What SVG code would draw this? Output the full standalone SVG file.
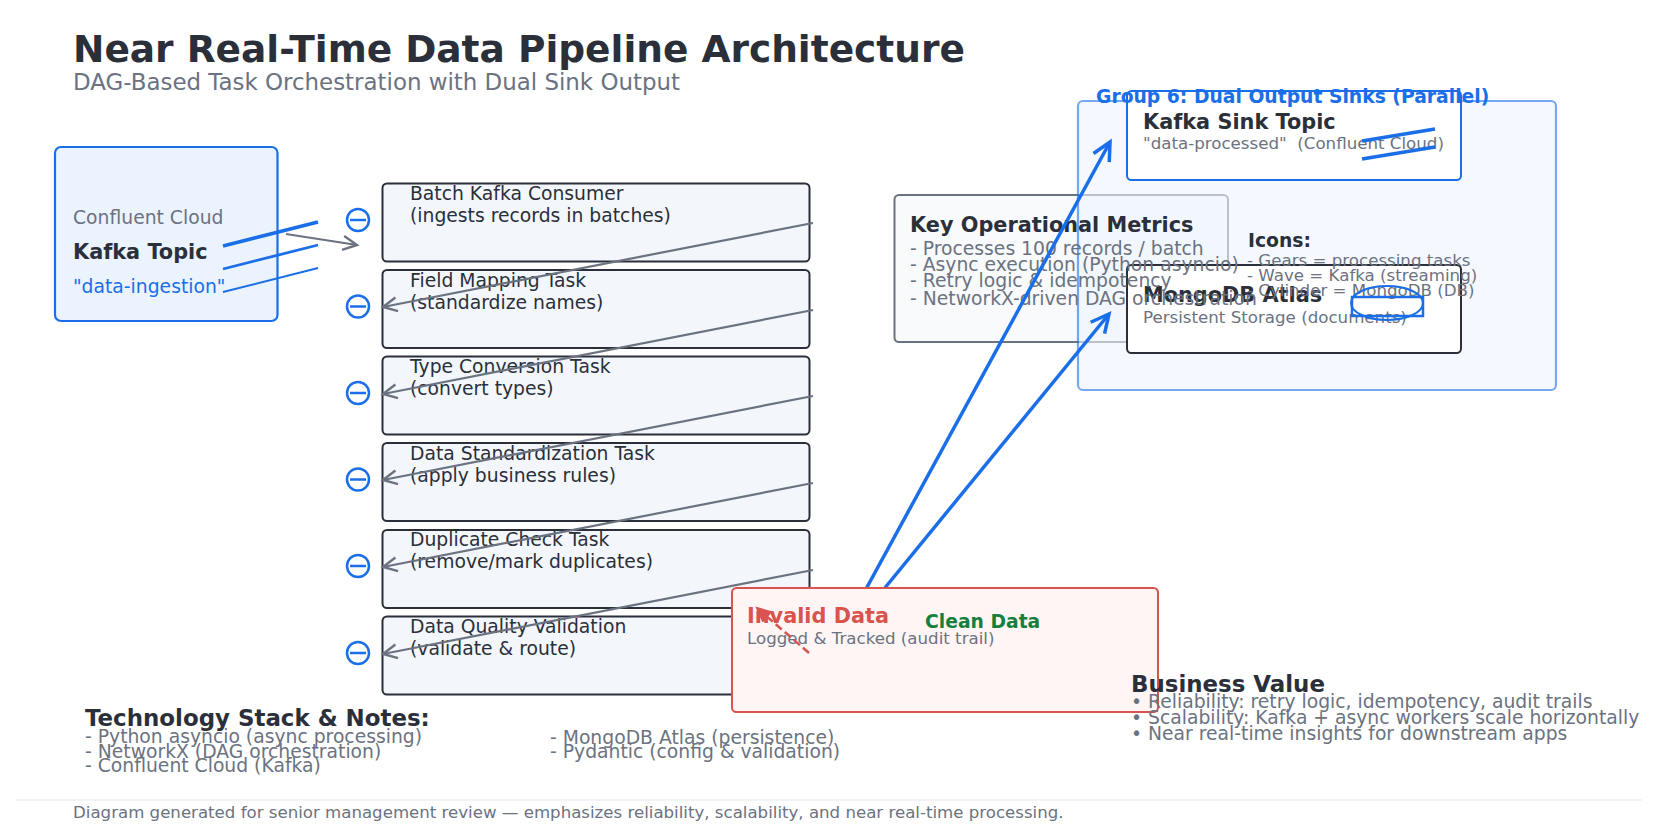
<svg xmlns="http://www.w3.org/2000/svg" width="1657" height="838" viewBox="0 0 1657 838">
<style>
text{font-family:"DejaVu Sans",sans-serif;white-space:pre}
.b{font-weight:700}
.dk{fill:#2a2f3a}
.gr{fill:#6b7280}
.bl{fill:#1a6fe8}
.task{fill:#f3f7fc;stroke:#2a2f3a;stroke-width:2}
.tt{font-size:18.75px;fill:#2a2f3a}
.s16{font-size:16.67px}
.s18{font-size:18.75px}
.s21{font-size:20.83px}
.s23{font-size:22.92px}
.glass{fill:none;stroke:#1a6fe8;stroke-width:2.5}
.gl{stroke:#6b7280;stroke-width:2.2;fill:none;marker-end:url(#ag)}
.bla{stroke:#1a6fe8;stroke-width:3.5;fill:none;marker-end:url(#ab)}
.wave{stroke:#1a6fe8;fill:none}
</style>
<defs>
<marker id="ag" markerUnits="userSpaceOnUse" markerWidth="20" markerHeight="20" refX="15" refY="8" orient="auto"><path d="M1,1 L15,8 L1,15" fill="none" stroke="#6b7280" stroke-width="2.4"/></marker>
<marker id="ab" markerUnits="userSpaceOnUse" markerWidth="26" markerHeight="26" refX="20" refY="11" orient="auto"><path d="M2,2 L20,11 L2,20" fill="none" stroke="#1a6fe8" stroke-width="3.5"/></marker>
<marker id="ar" markerUnits="userSpaceOnUse" markerWidth="20" markerHeight="20" refX="14" refY="7" orient="auto"><path d="M1,1 L14,7 L1,13 Z" fill="#d9534f" stroke="#d9534f" stroke-width="2"/></marker>
</defs>
<rect width="1657" height="838" fill="#fff"/>
<g id="header">
<text x="73" y="62" class="b dk" font-size="37.5">Near Real-Time Data Pipeline Architecture</text>
<text x="73" y="90" class="gr s23">DAG-Based Task Orchestration with Dual Sink Output</text>
</g>
<g id="source">
<rect x="55" y="147" width="222.500" height="174" rx="6" fill="#ebf3fe" stroke="#1a6fe8" stroke-width="2.2"/>
<text x="73" y="224" class="gr s18">Confluent Cloud</text>
<text x="73" y="259" class="b dk s21">Kafka Topic</text>
<text x="73" y="293" class="bl s18">"data-ingestion"</text>
</g>
<g id="task1"><rect class="task" x="382.500" y="183.500" width="427" height="78" rx="4.500"/><text class="tt" x="410" y="200">Batch Kafka Consumer</text><text class="tt" x="410" y="222">(ingests records in batches)</text><circle class="glass" cx="358" cy="220" r="11"/><line x1="350" y1="220" x2="366" y2="220" class="glass"/></g>
<g id="task2"><rect class="task" x="382.500" y="270" width="427" height="78" rx="4.500"/><text class="tt" x="410" y="286.500">Field Mapping Task</text><text class="tt" x="410" y="308.500">(standardize names)</text><circle class="glass" cx="358" cy="306.500" r="11"/><line x1="350" y1="306.500" x2="366" y2="306.500" class="glass"/></g>
<g id="task3"><rect class="task" x="382.500" y="356.500" width="427" height="78" rx="4.500"/><text class="tt" x="410" y="373">Type Conversion Task</text><text class="tt" x="410" y="395">(convert types)</text><circle class="glass" cx="358" cy="393" r="11"/><line x1="350" y1="393" x2="366" y2="393" class="glass"/></g>
<g id="task4"><rect class="task" x="382.500" y="443" width="427" height="78" rx="4.500"/><text class="tt" x="410" y="459.500">Data Standardization Task</text><text class="tt" x="410" y="481.500">(apply business rules)</text><circle class="glass" cx="358" cy="479.500" r="11"/><line x1="350" y1="479.500" x2="366" y2="479.500" class="glass"/></g>
<g id="task5"><rect class="task" x="382.500" y="530" width="427" height="78" rx="4.500"/><text class="tt" x="410" y="546">Duplicate Check Task</text><text class="tt" x="410" y="568">(remove/mark duplicates)</text><circle class="glass" cx="358" cy="566" r="11"/><line x1="350" y1="566" x2="366" y2="566" class="glass"/></g>
<g id="task6"><rect class="task" x="382.500" y="616.500" width="427" height="78" rx="4.500"/><text class="tt" x="410" y="633">Data Quality Validation</text><text class="tt" x="410" y="655">(validate &amp; route)</text><circle class="glass" cx="358" cy="653" r="11"/><line x1="350" y1="653" x2="366" y2="653" class="glass"/></g>
<g id="metrics-box"><rect x="894.500" y="195" width="333.500" height="147" rx="4.500" fill="#f8fafc" stroke="#6b7280" stroke-width="2"/></g>
<g id="sinks-group"><rect x="1078" y="101" width="478" height="289" rx="5" fill="#eff6ff" stroke="#1a6fe8" stroke-width="2.2" opacity=".6"/></g>
<g id="kafka-sink"><rect x="1127" y="91" width="334" height="89" rx="4.500" fill="#fff" stroke="#1a6fe8" stroke-width="2"/>
<text x="1143" y="129" class="b dk s21">Kafka Sink Topic</text>
<text x="1143" y="149" class="gr s16">"data-processed"  (Confluent Cloud)</text></g>
<g id="mongodb"><rect x="1127" y="265" width="334" height="88" rx="4.500" fill="#fff" stroke="#2a2f3a" stroke-width="2"/>
<text x="1143" y="302" class="b dk s21">MongoDB Atlas</text>
<text x="1143" y="323" class="gr s16">Persistent Storage (documents)</text></g>
<g id="metrics"><text x="910" y="232" class="b dk s21">Key Operational Metrics</text>
<text x="910" y="255" class="gr s18">- Processes 100 records / batch</text>
<text x="910" y="271" class="gr s18">- Async execution (Python asyncio)</text>
<text x="910" y="287" class="gr s18">- Retry logic &amp; idempotency</text>
<text x="910" y="305" class="gr s18">- NetworkX-driven DAG orchestration</text></g>
<g id="legend"><text x="1248" y="247" class="b dk s18">Icons:</text>
<text x="1247" y="266" class="gr s16">- Gears = processing tasks</text>
<text x="1247" y="281" class="gr s16">- Wave = Kafka (streaming)</text>
<text x="1247" y="296" class="gr s16">- Cylinder = MongoDB (DB)</text></g>
<g id="group-title"><text x="1096" y="103" class="b bl s18">Group 6: Dual Output Sinks (Parallel)</text></g>
<g id="connectors">
<line class="wave" x1="223" y1="246" x2="318" y2="222" stroke-width="3.5"/>
<line class="wave" x1="223" y1="269" x2="318" y2="245" stroke-width="2.8"/>
<line class="wave" x1="223" y1="292" x2="318" y2="268" stroke-width="2"/>
<line class="gl" x1="286" y1="234" x2="357" y2="245"/>
<line class="gl" x1="813" y1="223" x2="383" y2="307"/>
<line class="gl" x1="813" y1="310" x2="383" y2="394"/>
<line class="gl" x1="813" y1="396" x2="383" y2="480"/>
<line class="gl" x1="813" y1="483" x2="383" y2="567"/>
<line class="gl" x1="813" y1="570" x2="383" y2="654"/>
<line class="bla" x1="860" y1="600" x2="1110" y2="142"/>
<line class="bla" x1="875" y1="600" x2="1109" y2="314"/>
<line class="wave" x1="1362" y1="141" x2="1435" y2="129" stroke-width="3.5"/>
<line class="wave" x1="1362" y1="159" x2="1435" y2="147" stroke-width="3.5"/>
<ellipse cx="1387" cy="303" rx="36" ry="17" fill="none" stroke="#1a6fe8" stroke-width="2"/>
<rect class="glass" x="1352" y="297" width="71" height="19"/>
</g>
<g id="invalid"><rect x="732" y="588" width="426" height="124" rx="4.500" fill="#fff5f5" stroke="#d9534f" stroke-width="2"/>
<text x="747" y="623" class="b s21" fill="#d9534f">Invalid Data</text>
<text x="747" y="644" class="gr s16">Logged &amp; Tracked (audit trail)</text>
<line x1="809" y1="653" x2="757" y2="608" stroke="#d9534f" stroke-width="2.5" stroke-dasharray="8 4" marker-end="url(#ar)"/>
<text x="925" y="628" class="b s18" fill="#15803d">Clean Data</text></g>
<g id="tech-stack"><text x="85" y="726" class="b dk s23">Technology Stack &amp; Notes:</text>
<text x="85" y="743" class="gr s18">- Python asyncio (async processing)</text>
<text x="85" y="758" class="gr s18">- NetworkX (DAG orchestration)</text>
<text x="85" y="772" class="gr s18">- Confluent Cloud (Kafka)</text>
<text x="550" y="744" class="gr s18">- MongoDB Atlas (persistence)</text>
<text x="550" y="758" class="gr s18">- Pydantic (config &amp; validation)</text></g>
<g id="business-value"><text x="1131" y="692" class="b dk s23">Business Value</text>
<text x="1131" y="708" class="gr s18">• Reliability: retry logic, idempotency, audit trails</text>
<text x="1131" y="724" class="gr s18">• Scalability: Kafka + async workers scale horizontally</text>
<text x="1131" y="740" class="gr s18">• Near real-time insights for downstream apps</text></g>
<g id="footer"><line x1="15" y1="800" x2="1642" y2="800" stroke="#e5e7eb" stroke-width="1"/>
<text x="73" y="818" class="gr" font-size="16.62">Diagram generated for senior management review — emphasizes reliability, scalability, and near real-time processing.</text></g>
</svg>
